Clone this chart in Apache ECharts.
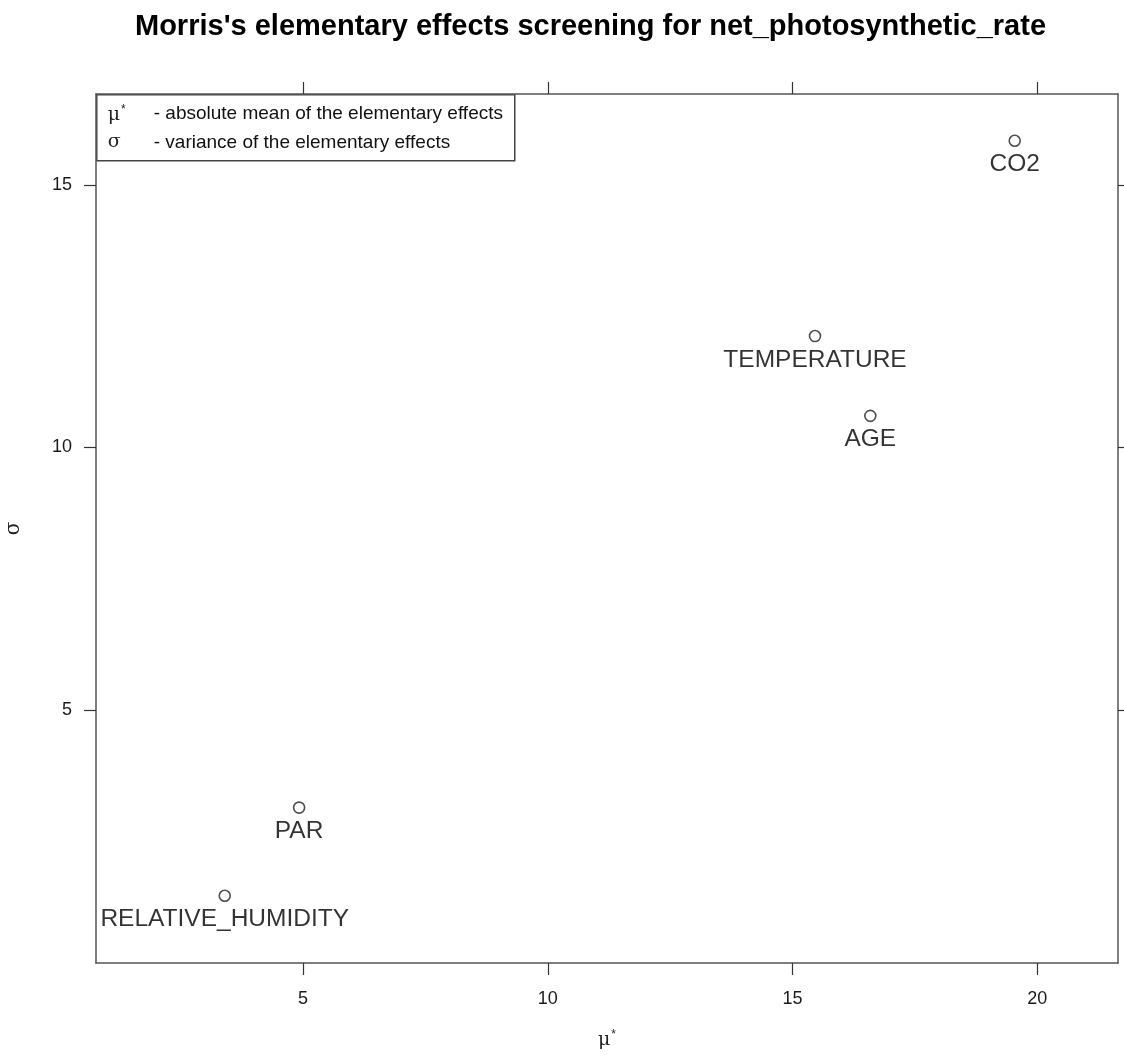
<!DOCTYPE html>
<html>
<head>
<meta charset="utf-8">
<script src="https://cdn.jsdelivr.net/npm/echarts@6/dist/echarts.min.js"></script>
<style>
html,body{margin:0;padding:0;background:#fff;}
#chart{width:1124px;height:1055px;}
</style>
</head>
<body>
<div id="chart"></div>
<script>
// Data
const factors = ["CO2", "TEMPERATURE", "AGE", "PAR", "RELATIVE_HUMIDITY"];
const muStar = [19.54, 15.46, 16.59, 4.92, 3.40];
const sigma = [15.84, 12.12, 10.60, 3.14, 1.46];
const xTicks = [5, 10, 15, 20];
const yTicks = [5, 10, 15];
const xRange = [0.77, 21.65];
const yRange = [0.18, 16.73];

const titleText = "Morris's elementary effects screening for net_photosynthetic_rate";
const legendLine1 = "- absolute mean of the elementary effects";
const legendLine2 = "- variance of the elementary effects";

const chart = echarts.init(document.getElementById('chart'));
const lineColor = '#555';
const font = 'Liberation Sans, Arial, sans-serif';

function xAxisCfg(pos, showLabels) {
  return {
    type: 'value', position: pos, min: xRange[0], max: xRange[1],
    splitLine: {show: false},
    axisLine: {show: true, onZero: false, lineStyle: {color: lineColor, width: 1.5}},
    axisTick: {show: true, inside: false, length: 12, customValues: xTicks, lineStyle: {color: '#333', width: 1.2}},
    axisLabel: {show: showLabels, customValues: xTicks, margin: 27, color: '#1a1a1a', fontSize: 18, fontFamily: font},
    name: showLabels ? '{m|μ}{s|*}' : '', nameLocation: 'middle', nameGap: 66,
    nameTextStyle: {rich: {
      m: {fontFamily: 'DejaVu Serif, serif', fontSize: 19, color: '#222'},
      s: {fontFamily: font, fontSize: 12, color: '#222', verticalAlign: 'top', padding: [0,0,10,1]}
    }}
  };
}
function yAxisCfg(pos, showLabels) {
  return {
    type: 'value', position: pos, min: yRange[0], max: yRange[1],
    splitLine: {show: false},
    axisLine: {show: true, onZero: false, lineStyle: {color: lineColor, width: 1.5}},
    axisTick: {show: true, inside: false, length: pos === 'left' ? 12 : 8, customValues: yTicks, lineStyle: {color: '#333', width: 1.2}},
    axisLabel: {show: showLabels, customValues: yTicks, margin: 24, color: '#1a1a1a', fontSize: 18, fontFamily: font},
    name: showLabels ? 'σ' : '', nameLocation: 'middle', nameGap: 72, nameRotate: 90,
    nameTextStyle: {fontFamily: 'DejaVu Serif, serif', fontSize: 20, color: '#222'}
  };
}

const option = {
  backgroundColor: '#fff',
  animation: false,
  title: {
    text: titleText, left: 130, top: 7,
    textStyle: {fontFamily: font, fontWeight: 'bold', fontSize: 29, color: '#000'}
  },
  grid: {left: 96, top: 94, right: 6, bottom: 92, containLabel: false, outerBoundsMode: 'none'},
  xAxis: [xAxisCfg('bottom', true), xAxisCfg('top', false)],
  yAxis: [yAxisCfg('left', true), yAxisCfg('right', false)],
  series: [{
    type: 'scatter',
    xAxisIndex: 0, yAxisIndex: 0,
    data: factors.map((f, i) => ({name: f, value: [muStar[i], sigma[i]]})),
    symbol: 'circle', symbolSize: 11,
    itemStyle: {color: '#fff', borderColor: '#222', borderWidth: 1.6},
    label: {
      show: true, position: 'bottom', distance: 5,
      formatter: p => p.name,
      fontFamily: font, fontSize: 24.5, color: '#000'
    },
    emphasis: {disabled: true}
  }],
  graphic: [{
    type: 'group', left: 96, top: 94,
    children: [
      {type: 'rect', shape: {x: 0, y: 0, width: 418, height: 66},
       style: {fill: '#fff', stroke: '#444', lineWidth: 1.5}},
      {type: 'text', x: 11, y: 9, style: {
        text: '{m|μ}{s|*}', rich: {
          m: {fontFamily: 'DejaVu Serif, serif', fontSize: 19, fill: '#222'},
          s: {fontFamily: font, fontSize: 12, fill: '#222', verticalAlign: 'top', padding: [0,0,10,1]}
        }}},
      {type: 'text', x: 57, y: 10, style: {text: legendLine1, fontFamily: font, fontSize: 19, fill: '#111'}},
      {type: 'text', x: 11, y: 38, style: {text: 'σ', fontFamily: 'DejaVu Serif, serif', fontSize: 19, fill: '#222'}},
      {type: 'text', x: 57, y: 39, style: {text: legendLine2, fontFamily: font, fontSize: 19, fill: '#111'}}
    ]
  }]
};
chart.setOption(option);
</script>
</body>
</html>
